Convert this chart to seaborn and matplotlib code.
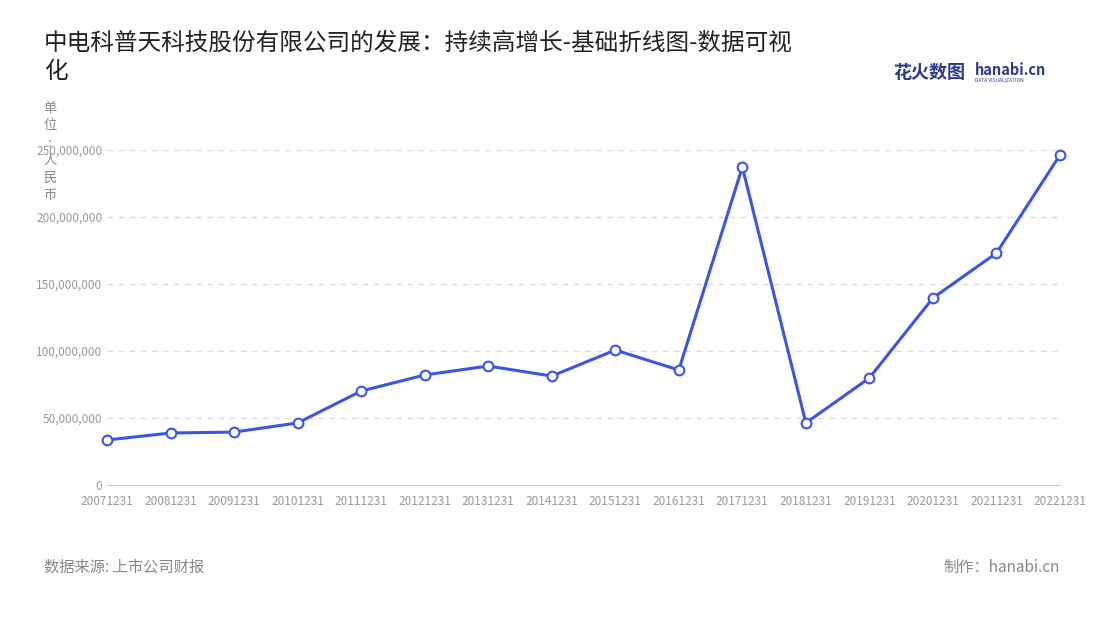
import matplotlib
matplotlib.use("Agg")
import matplotlib.pyplot as plt
import seaborn as sns
import pandas as pd
from matplotlib.ticker import FuncFormatter

years = ["20071231","20081231","20091231","20101231","20111231","20121231","20131231","20141231",
         "20151231","20161231","20171231","20181231","20191231","20201231","20211231","20221231"]
values = [33.6e6,38.8e6,39.5e6,46.3e6,70.1e6,82.1e6,88.8e6,81.3e6,
          100.7e6,85.8e6,237.3e6,46.3e6,79.9e6,139.6e6,173.1e6,246.3e6]

sns.set_style("white")
plt.rcParams['font.family'] = ['Noto Sans CJK SC', 'DejaVu Sans']

fig = plt.figure(figsize=(11, 6.2), dpi=100)
ax = fig.add_axes([107/1100, 1-485/620, (1060-107)/1100, (485-150)/620])
df = pd.DataFrame({"x": range(len(years)), "y": values})
sns.lineplot(data=df, x="x", y="y", ax=ax, color="#3b55e6", linewidth=2.2,
             marker="o", markersize=7, markerfacecolor="white", markeredgecolor="#3b55e6",
             markeredgewidth=1.5, clip_on=False)
ax.set_xlim(0, len(years)-1)
ax.set_ylim(0, 250e6)
ax.set_yticks([0,50e6,100e6,150e6,200e6,250e6])
ax.yaxis.set_major_formatter(FuncFormatter(lambda v, p: f"{int(v):,}"))
ax.set_xticks(range(len(years)))
ax.set_xticklabels(years)
ax.tick_params(axis='both', labelsize=8.5, colors="#999999", length=0)
ax.tick_params(axis='x', length=4, color="#cccccc")
ax.grid(axis='y', linestyle=(0,(4,4)), color="#dddddd", linewidth=1)
for s in ["top","right","left"]:
    ax.spines[s].set_visible(False)
ax.spines["bottom"].set_color("#cccccc")
ax.set_xlabel(""); ax.set_ylabel("")

fig.text(44/1100, 1-57/620, "中电科普天科技股份有限公司的发展：持续高增长-基础折线图-数据可视\n化",
         fontsize=17, color="#222222", va="center", linespacing=1.3)
fig.text(50/1100, 1-152/620, "单\n位\n:\n人\n民\n币", fontsize=9.5, color="#888888",
         ha="center", va="center", linespacing=1.45)
fig.text(44/1100, 1-567/620, "数据来源: 上市公司财报", fontsize=11, color="#888888", va="center")
fig.text(1060/1100, 1-567/620, "制作：hanabi.cn", fontsize=11, color="#888888", va="center", ha="right")
fig.text(893/1100, 1-73/620, "花火数图", fontsize=13, color="#2b3a8c", va="center", fontweight="bold")
fig.text(975/1100, 1-70/620, "hanabi.cn", fontsize=10.5, color="#2b3a8c", va="center", fontweight="bold")
fig.text(975/1100, 1-80/620, "DATA VISUALIZATION", fontsize=3.5, color="#2b3a8c", va="center")
fig.savefig("out.png", dpi=100)
